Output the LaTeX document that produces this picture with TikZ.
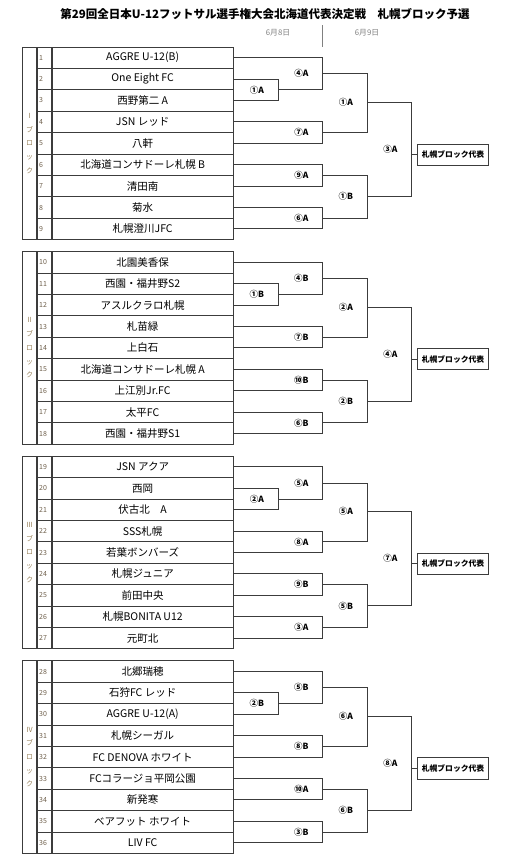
\documentclass[tikz,border=0pt]{standalone}
\usepackage{fontspec}
\setmainfont{Noto Sans CJK JP}
\usetikzlibrary{positioning}

\definecolor{linegray}{RGB}{60,60,60}
\definecolor{blockbrown}{RGB}{150,128,90}
\definecolor{numgray}{RGB}{110,95,75}

\tikzstyle{team} = [rectangle, minimum width=181.3pt, minimum height=21.4pt, inner sep=0pt, text centered, draw=linegray, line width=0.8pt, font=\fontsize{10.5}{12}\selectfont]
\tikzstyle{num} = [rectangle, minimum width=15pt, minimum height=21.4pt, text width=9pt, inner xsep=3pt, inner ysep=0pt, align=left, draw=linegray, line width=0.8pt, text=numgray, font=\fontsize{7}{8}\selectfont]
\tikzstyle{blk} = [rectangle, minimum width=15pt, minimum height=192.6pt, inner sep=0pt, align=center, draw=linegray, line width=0.8pt, text=blockbrown, font=\fontsize{7}{13.7}\selectfont]
\tikzstyle{lbl} = [inner sep=0pt, font=\fontsize{8.5}{10}\selectfont\bfseries]
\tikzstyle{rep} = [rectangle, minimum width=71.4pt, minimum height=21.3pt, inner sep=0pt, text centered, draw=linegray, line width=0.8pt, font=\fontsize{7.8}{9}\selectfont\bfseries]
\tikzstyle{wire} = [draw=linegray, line width=0.9pt]

\begin{document}
\begin{tikzpicture}[x=1pt, y=-1pt]
\useasboundingbox (0,0) rectangle (531,865);

\node (title) at (265,14) {\fontsize{11.5}{13}\selectfont\bfseries 第29回全日本U-12フットサル選手権大会北海道代表決定戦　札幌ブロック予選};
\node (day1) [text=gray, font=\fontsize{7.8}{9}\selectfont] at (278,32.3) {6月8日};
\node (day2) [text=gray, font=\fontsize{7.8}{9}\selectfont] at (367,32.3) {6月9日};
\coordinate (sep top) at (322.7,25);
\coordinate (sep bot) at (322.7,46.7);
\draw [gray, line width=1.2pt] (sep top) -- (sep bot);

% team rows
\foreach \n/\name in {1/{AGGRE U-12(B)}, 2/{One Eight FC}, 3/{西野第二 A}, 4/{JSN レッド}, 5/{八軒}, 6/{北海道コンサドーレ札幌 B}, 7/{清田南}, 8/{菊水}, 9/{札幌澄川JFC},
  10/{北園美香保}, 11/{西園・福井野S2}, 12/{アスルクラロ札幌}, 13/{札苗緑}, 14/{上白石}, 15/{北海道コンサドーレ札幌 A}, 16/{上江別Jr.FC}, 17/{太平FC}, 18/{西園・福井野S1},
  19/{JSN アクア}, 20/{西岡}, 21/{伏古北　A}, 22/{SSS札幌}, 23/{若葉ボンバーズ}, 24/{札幌ジュニア}, 25/{前田中央}, 26/{札幌BONITA U12}, 27/{元町北},
  28/{北郷瑞穂}, 29/{石狩FC レッド}, 30/{AGGRE U-12(A)}, 31/{札幌シーガル}, 32/{FC DENOVA ホワイト}, 33/{FCコラージョ平岡公園}, 34/{新発寒}, 35/{ベアフット ホワイト}, 36/{LIV FC}} {
  \pgfmathtruncatemacro\blkno{(\n-1)/9}
  \pgfmathtruncatemacro\rowno{\n-9*\blkno}
  \node (t\blkno-\rowno) [team] at (142.65, {47+204.6*\blkno+21.4*(\rowno-0.5)}) {\name};
  \node (n\blkno-\rowno) [num, left=0pt of t\blkno-\rowno] {\n};
}

% brackets
\foreach \b/\blab/\ra/\ma/\mb/\mc/\md/\sa/\sb/\fin in {
  0/Ⅰ/①A/④A/⑦A/⑨A/⑥A/①A/①B/③A,
  1/Ⅱ/①B/④B/⑦B/⑩B/⑥B/②A/②B/④A,
  2/Ⅲ/②A/⑤A/⑧A/⑨B/③A/⑤A/⑤B/⑦A,
  3/Ⅳ/②B/⑤B/⑧B/⑩A/③B/⑥A/⑥B/⑧A} {
  \pgfmathsetmacro\yt{47+204.6*\b}
  \node (blk\b) [blk] at (29.5, {\yt+96.3}) {\blab\\ブ\\ロ\\ッ\\ク};

  \coordinate (r\b) at (278.3, {\yt+42.8});
  \coordinate (ma\b) at (322.7, {\yt+26.75});
  \coordinate (mb\b) at (322.7, {\yt+85.6});
  \coordinate (mc\b) at (322.7, {\yt+128.4});
  \coordinate (md\b) at (322.7, {\yt+171.2});
  \coordinate (sa\b) at (367.3, {\yt+55.5});
  \coordinate (sb\b) at (367.3, {\yt+149.6});
  \coordinate (f\b) at (411.7, {\yt+102.5});
  \node (rep\b) [rep] at (453, {\yt+107.6}) {札幌ブロック代表};

  \draw [wire] (t\b-2.east) -| (r\b) |- (t\b-3.east);
  \draw [wire] (t\b-1.east) -| (ma\b) |- (r\b);
  \draw [wire] (t\b-4.east) -| (mb\b) |- (t\b-5.east);
  \draw [wire] (t\b-6.east) -| (mc\b) |- (t\b-7.east);
  \draw [wire] (t\b-8.east) -| (md\b) |- (t\b-9.east);
  \draw [wire] (ma\b) -| (sa\b) |- (mb\b);
  \draw [wire] (mc\b) -| (sb\b) |- (md\b);
  \draw [wire] (sa\b) -| (f\b) |- (sb\b);
  \draw [wire] (f\b |- rep\b.west) -- (rep\b.west);

  \node (lr\b) [lbl, left=14pt of r\b] {\ra};
  \node (lma\b) [lbl, left=14pt of ma\b] {\ma};
  \node (lmb\b) [lbl, left=14pt of mb\b] {\mb};
  \node (lmc\b) [lbl, left=14pt of mc\b] {\mc};
  \node (lmd\b) [lbl, left=14pt of md\b] {\md};
  \node (lsa\b) [lbl, left=14pt of sa\b] {\sa};
  \node (lsb\b) [lbl, left=14pt of sb\b] {\sb};
  \node (lf\b) [lbl, left=14pt of f\b] {\fin};
}
\end{tikzpicture}
\end{document}
